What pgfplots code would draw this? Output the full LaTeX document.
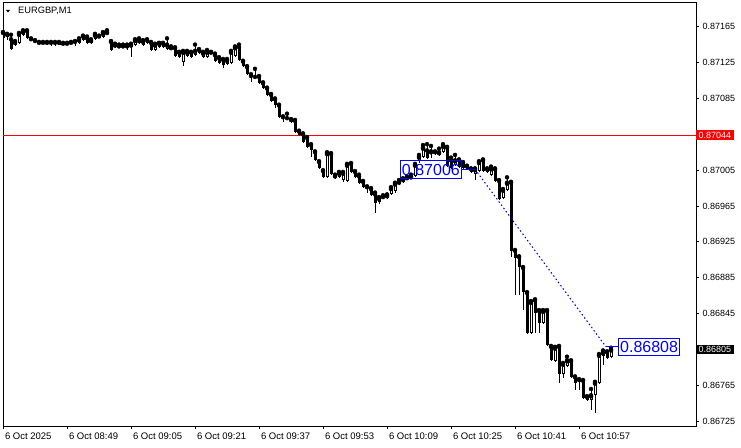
\documentclass[border=0pt]{standalone}
\usepackage{pgfplots}
\pgfplotsset{compat=1.18}
\usepackage{pgfplotstable}
\usepackage{fontspec}
\setmainfont{Liberation Sans}
\definecolor{mtblue}{RGB}{0,0,255}
\definecolor{mtred}{RGB}{255,0,0}
% EURGBP M1 candles: i = minutes since 08:33, open high low close
\pgfplotstableread{
i o h l c
0 0.87158 0.87159 0.87151 0.87152
1 0.87156 0.87157 0.87150 0.87154
2 0.87151 0.87156 0.87139 0.87140
3 0.87145 0.87149 0.87143 0.87148
4 0.87147 0.87158 0.87146 0.87157
5 0.87156 0.87161 0.87155 0.87160
6 0.87160 0.87161 0.87151 0.87152
7 0.87151 0.87152 0.87149 0.87151
8 0.87149 0.87150 0.87148 0.87149
9 0.87147 0.87148 0.87146 0.87147
10 0.87147 0.87148 0.87146 0.87147
11 0.87147 0.87148 0.87145 0.87146
12 0.87147 0.87148 0.87143 0.87147
13 0.87147 0.87148 0.87143 0.87146
14 0.87147 0.87148 0.87145 0.87145
15 0.87146 0.87147 0.87145 0.87146
16 0.87146 0.87147 0.87145 0.87146
17 0.87147 0.87148 0.87146 0.87147
18 0.87148 0.87149 0.87143 0.87147
19 0.87147 0.87152 0.87146 0.87151
20 0.87154 0.87155 0.87149 0.87150
21 0.87152 0.87154 0.87146 0.87147
22 0.87147 0.87151 0.87146 0.87150
23 0.87151 0.87157 0.87150 0.87156
24 0.87154 0.87155 0.87152 0.87154
25 0.87154 0.87159 0.87152 0.87158
26 0.87158 0.87161 0.87157 0.87159
27 0.87148 0.87149 0.87138 0.87139
28 0.87142 0.87146 0.87141 0.87145
29 0.87143 0.87145 0.87142 0.87143
30 0.87143 0.87145 0.87141 0.87142
31 0.87143 0.87145 0.87139 0.87143
32 0.87142 0.87146 0.87131 0.87145
33 0.87145 0.87151 0.87143 0.87150
34 0.87147 0.87152 0.87146 0.87150
35 0.87145 0.87150 0.87143 0.87149
36 0.87150 0.87151 0.87146 0.87147
37 0.87147 0.87148 0.87138 0.87139
38 0.87139 0.87146 0.87138 0.87145
39 0.87146 0.87147 0.87141 0.87142
40 0.87146 0.87147 0.87141 0.87142
41 0.87140 0.87152 0.87139 0.87145
42 0.87141 0.87143 0.87139 0.87141
43 0.87141 0.87142 0.87131 0.87132
44 0.87136 0.87137 0.87130 0.87131
45 0.87126 0.87138 0.87121 0.87137
46 0.87132 0.87138 0.87131 0.87137
47 0.87136 0.87137 0.87130 0.87131
48 0.87133 0.87145 0.87132 0.87138
49 0.87139 0.87140 0.87135 0.87136
50 0.87131 0.87137 0.87130 0.87136
51 0.87131 0.87139 0.87130 0.87137
52 0.87136 0.87137 0.87135 0.87136
53 0.87133 0.87135 0.87126 0.87127
54 0.87130 0.87131 0.87123 0.87125
55 0.87128 0.87129 0.87119 0.87122
56 0.87123 0.87129 0.87122 0.87128
57 0.87125 0.87138 0.87123 0.87137
58 0.87132 0.87143 0.87131 0.87142
59 0.87142 0.87145 0.87127 0.87128
60 0.87126 0.87127 0.87120 0.87121
61 0.87120 0.87121 0.87111 0.87112
62 0.87110 0.87112 0.87103 0.87110
63 0.87109 0.87118 0.87108 0.87109
64 0.87109 0.87110 0.87101 0.87102
65 0.87102 0.87103 0.87096 0.87097
66 0.87096 0.87097 0.87088 0.87089
67 0.87089 0.87090 0.87081 0.87082
68 0.87084 0.87085 0.87074 0.87078
69 0.87077 0.87078 0.87063 0.87064
70 0.87064 0.87065 0.87059 0.87064
71 0.87063 0.87068 0.87061 0.87063
72 0.87061 0.87062 0.87058 0.87059
73 0.87060 0.87061 0.87046 0.87048
74 0.87048 0.87049 0.87043 0.87044
75 0.87045 0.87046 0.87035 0.87036
76 0.87041 0.87042 0.87030 0.87031
77 0.87033 0.87034 0.87020 0.87027
78 0.87025 0.87026 0.87015 0.87016
79 0.87014 0.87015 0.87006 0.87007
80 0.87004 0.87005 0.86996 0.86997
81 0.86997 0.87025 0.86996 0.87024
82 0.87023 0.87024 0.87000 0.87001
83 0.86998 0.87000 0.86995 0.86996
84 0.86997 0.87003 0.86996 0.87002
85 0.86994 0.87003 0.86992 0.87002
86 0.86993 0.87012 0.86992 0.87011
87 0.87012 0.87013 0.87002 0.87003
88 0.87003 0.87004 0.86996 0.86997
89 0.86998 0.87000 0.86990 0.86991
90 0.86992 0.86993 0.86985 0.86986
91 0.86986 0.86987 0.86980 0.86986
92 0.86984 0.86985 0.86976 0.86977
93 0.86978 0.86980 0.86957 0.86968
94 0.86970 0.86975 0.86967 0.86974
95 0.86975 0.86977 0.86973 0.86975
96 0.86974 0.86978 0.86973 0.86977
97 0.86978 0.86986 0.86977 0.86985
98 0.86982 0.86991 0.86980 0.86990
99 0.86991 0.86994 0.86988 0.86991
100 0.86992 0.86996 0.86991 0.86995
101 0.86996 0.86998 0.86994 0.86996
102 0.86996 0.87000 0.86995 0.86998
103 0.86998 0.87012 0.86997 0.87011
104 0.87015 0.87022 0.87013 0.87020
105 0.87020 0.87033 0.87019 0.87030
106 0.87027 0.87034 0.87017 0.87019
107 0.87024 0.87032 0.87019 0.87026
108 0.87025 0.87026 0.87022 0.87023
109 0.87022 0.87029 0.87021 0.87025
110 0.87025 0.87034 0.87024 0.87032
111 0.87030 0.87031 0.87009 0.87010
112 0.87016 0.87019 0.87006 0.87007
113 0.87011 0.87022 0.87010 0.87016
114 0.87016 0.87017 0.87007 0.87009
115 0.87013 0.87014 0.87006 0.87007
116 0.87009 0.87010 0.87005 0.87006
117 0.87006 0.87007 0.87002 0.87003
118 0.87001 0.87007 0.86994 0.87006
119 0.87004 0.87015 0.87003 0.87014
120 0.87016 0.87017 0.87003 0.87004
121 0.87006 0.87007 0.87002 0.87003
122 0.87000 0.87009 0.86998 0.87007
123 0.87006 0.87007 0.86992 0.86993
124 0.86993 0.86994 0.86972 0.86973
125 0.86974 0.86984 0.86973 0.86983
126 0.86983 0.86997 0.86982 0.86991
127 0.86991 0.86992 0.86908 0.86915
128 0.86915 0.86916 0.86866 0.86907
129 0.86908 0.86909 0.86866 0.86897
130 0.86896 0.86897 0.86849 0.86869
131 0.86868 0.86869 0.86822 0.86823
132 0.86823 0.86859 0.86822 0.86858
133 0.86860 0.86861 0.86823 0.86846
134 0.86848 0.86849 0.86823 0.86835
135 0.86835 0.86849 0.86833 0.86848
136 0.86848 0.86849 0.86809 0.86810
137 0.86808 0.86809 0.86792 0.86793
138 0.86792 0.86808 0.86791 0.86807
139 0.86808 0.86809 0.86768 0.86778
140 0.86778 0.86790 0.86773 0.86789
141 0.86787 0.86797 0.86786 0.86793
142 0.86792 0.86793 0.86773 0.86774
143 0.86774 0.86775 0.86760 0.86768
144 0.86771 0.86772 0.86760 0.86769
145 0.86770 0.86771 0.86750 0.86751
146 0.86752 0.86753 0.86748 0.86749
147 0.86749 0.86761 0.86738 0.86754
148 0.86754 0.86769 0.86734 0.86768
149 0.86768 0.86800 0.86767 0.86799
150 0.86798 0.86804 0.86788 0.86802
151 0.86802 0.86803 0.86794 0.86796
152 0.86797 0.86807 0.86796 0.86805
}\candles
\begin{document}
\begin{tikzpicture}
\useasboundingbox (0,0) rectangle (741pt,447pt);
\begin{axis}[
  at={(3pt,21pt)}, anchor=south west,
  scale only axis, width=693pt, height=423pt,
  xmin=0, xmax=173.25, ymin=0.867197, ymax=0.871914,
  clip mode=individual,
  axis line style={black, line width=1pt},
  tick align=outside, major tick length=3pt,
  tick style={black, line width=1pt},
  xtick pos=left, xticklabel pos=left,
  ytick pos=right, yticklabel pos=right,
  xtick={0,16,...,144},
  xticklabels={6 Oct 2025,6 Oct 08:49,6 Oct 09:05,6 Oct 09:21,6 Oct 09:37,6 Oct 09:53,6 Oct 10:09,6 Oct 10:25,6 Oct 10:41,6 Oct 10:57},
  xticklabel style={font=\fontsize{9.5}{10}\selectfont, anchor=north west, xshift=-1.5pt},
  ytick={0.86725,0.86765,0.86845,0.86885,0.86925,0.86965,0.87005,0.87085,0.87125,0.87165},
  yticklabels={0.86725,0.86765,0.86845,0.86885,0.86925,0.86965,0.87005,0.87085,0.87125,0.87165},
  yticklabel style={font=\fontsize{9}{10}\selectfont, anchor=west},
  scaled y ticks=false, scaled x ticks=false,
]
% red level line
\addplot[draw=mtred, color=mtred, line width=1pt, mark=none] coordinates {(0,0.87044) (173.25,0.87044)};
% wicks
\addplot[only marks, mark=none, error bars/.cd, y dir=minus, y explicit, error mark=none,
  error bar style={draw=black, line width=1pt}]
  table[x=i, y=h, y error minus expr={\thisrow{h}-\thisrow{l}}] {\candles};
% bodies
\addplot[only marks, mark=none, error bars/.cd, y dir=minus, y explicit, error mark=none,
  error bar style={draw=black, line width=3pt}]
  table[x=i, y expr={max(\thisrow{o},\thisrow{c})}, y error minus expr={max(abs(\thisrow{o}-\thisrow{c}),0.0000112)}] {\candles};
% hollow interior of rising candles
\addplot[only marks, mark=none, restrict expr to domain={(\thisrow{c}-\thisrow{o})*100000}{0.5:1000},
  error bars/.cd, y dir=minus, y explicit, error mark=none,
  error bar style={draw=white, line width=1pt}]
  table[x=i, y expr={\thisrow{c}-0.0000112}, y error minus expr={max(\thisrow{c}-\thisrow{o}-0.0000223,0)}] {\candles};
% trend annotation
\addplot[draw=mtblue, line width=1pt, dash pattern=on 1.5pt off 2.5pt] coordinates {(118,0.87006) (150.75,0.86808)};
\addplot[draw=mtblue, line width=1pt] coordinates {(114.7,0.87006) (118,0.87006)};
\addplot[draw=mtblue, line width=1pt] coordinates {(150.75,0.86808) (153.8,0.86808)};
\node[draw=mtblue, line width=1pt, text=mtblue, anchor=east, font=\fontsize{16}{16}\selectfont,
  inner xsep=1.5pt, inner ysep=3pt, text height=11.5pt, text depth=0pt] at (axis cs:114.7,0.87006) {0.87006};
\node[draw=mtblue, line width=1pt, text=mtblue, anchor=west, font=\fontsize{16}{16}\selectfont,
  inner xsep=1.5pt, inner ysep=3pt, text height=11.5pt, text depth=0pt] at (axis cs:153.8,0.86808) {0.86808};
% price labels on the scale
\node[fill=mtred, text=white, anchor=west, inner xsep=2.5pt, inner ysep=1.5pt, font=\fontsize{9}{10}\selectfont] at (axis cs:173.25,0.87044) {0.87044};
\node[fill=black, text=white, anchor=west, inner xsep=2.5pt, inner ysep=1.5pt, font=\fontsize{9}{10}\selectfont] at (axis cs:173.25,0.86805) {0.86805};
% title
\fill[black] (rel axis cs:0.00433,0.98345) -- (rel axis cs:0.0101,0.98345) -- (rel axis cs:0.00722,0.97754) -- cycle;
\node[anchor=west, inner sep=0pt, font=\fontsize{9.3}{10}\selectfont] at (rel axis cs:0.0216,0.981) {EURGBP,M1};
\end{axis}
\end{tikzpicture}
\end{document}
